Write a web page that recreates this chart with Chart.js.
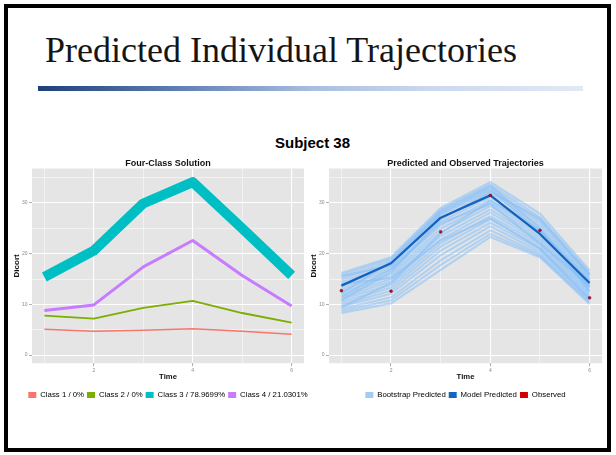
<!DOCTYPE html>
<html lang="en">
  <head>
    <meta charset="UTF-8" />
    <title>Predicted Individual Trajectories</title>
    <script src="https://cdn.jsdelivr.net/npm/chart.js"></script>
    <style>
      body {
        margin: 0;
        width: 616px;
        height: 455px;
        position: relative;
        overflow: hidden;
        background: #fff;
        font-family: "Liberation Sans", Arial, sans-serif;
      }
      .frame {
        position: absolute;
        left: 4px;
        top: 4px;
        width: 599px;
        height: 440px;
        border: 4px solid #000;
      }
      h1 {
        position: absolute;
        left: 45px;
        top: 32px;
        margin: 0;
        font: 400 36px/36px "Liberation Serif", "Times New Roman", serif;
        color: #151515;
        white-space: nowrap;
      }
      .rule {
        position: absolute;
        left: 38px;
        top: 86px;
        width: 545px;
        height: 5px;
        background: linear-gradient(
          90deg,
          #1e3f79 0%,
          #5d7db1 25%,
          #a8bde0 50%,
          #cbd8ee 72%,
          #e2e9f5 100%
        );
      }
      .subject {
        position: absolute;
        left: 0;
        top: 135px;
        width: 625px;
        text-align: center;
        font: 700 15px/15px "Liberation Sans", Arial, sans-serif;
        color: #000;
      }
      canvas {
        position: absolute;
      }
    </style>
  </head>
  <body>
    <div class="frame"></div>
    <h1>Predicted Individual Trajectories</h1>
    <div class="rule"></div>
    <div class="subject">Subject 38</div>
    <!-- canvases are symmetric around their plot so title/legend centre on the panel -->
    <canvas id="classChart" width="316" height="254" style="left: 10px; top: 155px"></canvas>
    <canvas id="trajChart" width="317" height="254" style="left: 307px; top: 155px"></canvas>

    <script>
      // time points
      const times = [1, 2, 3, 4, 5, 6];

      // left panel: four-class solution
      const classNames = ["Class 1 / 0%", "Class 2 / 0%", "Class 3 / 78.9699%", "Class 4 / 21.0301%"];
      const class1 = [5.1, 4.7, 4.9, 5.2, 4.7, 4.1];
      const class2 = [7.8, 7.2, 9.3, 10.7, 8.3, 6.4];
      const class3 = [15.4, 20.6, 29.9, 34.1, 25.0, 15.7];
      const class4 = [8.8, 9.9, 17.4, 22.6, 15.7, 9.7];

      // right panel: predicted and observed
      const trajNames = ["Bootstrap Predicted", "Model Predicted", "Observed"];
      const modelPredicted = [13.7, 18.1, 27.1, 31.5, 23.9, 14.2];
      const observed = [12.7, 12.6, 24.3, 31.5, 24.6, 11.3];
      const bootstrapPredicted = [
        [16.2, 19.3, 29.0, 34.1, 27.9, 16.7],
        [15.8, 19.0, 28.6, 33.6, 27.2, 16.2],
        [15.3, 18.6, 28.1, 33.1, 26.6, 15.8],
        [14.9, 18.2, 27.6, 32.5, 26.1, 15.5],
        [14.4, 17.7, 27.0, 31.9, 25.5, 15.1],
        [13.9, 17.2, 26.3, 31.2, 24.9, 14.8],
        [13.4, 16.7, 25.6, 30.6, 24.4, 14.4],
        [12.9, 16.1, 24.9, 30.0, 23.8, 14.0],
        [12.4, 15.6, 24.2, 29.4, 23.3, 13.6],
        [11.9, 15.0, 23.5, 28.7, 22.8, 13.2],
        [11.4, 14.5, 22.8, 28.1, 22.3, 12.8],
        [11.0, 13.9, 22.1, 27.4, 21.8, 12.4],
        [10.5, 13.3, 21.4, 26.8, 21.3, 12.0],
        [10.0, 12.7, 20.6, 26.1, 20.9, 11.6],
        [9.6, 12.1, 19.7, 25.4, 20.4, 11.2],
        [9.1, 11.4, 18.7, 24.6, 19.9, 10.8],
        [8.7, 10.8, 17.8, 23.9, 19.6, 10.4],
        [8.3, 10.2, 16.8, 23.3, 19.3, 10.1],
        [15.6, 17.6, 27.9, 32.8, 24.2, 13.4],
        [10.8, 16.4, 26.8, 32.2, 26.9, 15.9],
        [12.2, 18.4, 28.4, 33.4, 25.0, 12.6],
        [9.4, 14.2, 24.0, 30.4, 24.6, 14.6],
        [14.0, 15.2, 22.6, 27.0, 21.0, 11.0],
        [11.5, 17.0, 26.0, 29.8, 22.0, 13.8],
      ];

      // axis ticks (major get labels, minor only grid lines)
      const xMajorTicks = [2, 4, 6];
      const xMinorTicks = [1, 3, 5];
      const yMajorTicks = [0, 10, 20, 30];
      const yMinorTicks = [5, 15, 25, 35];

      Chart.defaults.font.family = "'Liberation Sans', Arial, sans-serif";

      const toPoints = (values) => values.map((v, i) => ({ x: times[i], y: v }));

      // ggplot style grey panel
      const plotBackground = {
        id: "plotBackground",
        beforeDraw(chart) {
          const { ctx, chartArea } = chart;
          ctx.save();
          ctx.fillStyle = "#E5E5E5";
          ctx.fillRect(chartArea.left, chartArea.top, chartArea.width, chartArea.height);
          ctx.restore();
        },
      };

      function axis(isX, majors, minors, min, max, title) {
        return {
          type: "linear",
          min: min,
          max: max,
          afterBuildTicks(scale) {
            scale.ticks = majors
              .concat(minors)
              .sort((a, b) => a - b)
              .map((v) => ({ value: v }));
          },
          afterFit(scale) {
            if (isX) scale.height = 25;
            else scale.width = 22;
          },
          border: { display: false },
          grid: {
            color: "#FFFFFF",
            lineWidth: (c) => (c.tick && majors.includes(c.tick.value) ? 1.1 : 0.5),
            tickLength: 3,
            tickWidth: 0.7,
            tickColor: (c) => (c.tick && majors.includes(c.tick.value) ? "#8A8A8A" : "rgba(0,0,0,0)"),
          },
          ticks: {
            autoSkip: false,
            maxRotation: 0,
            padding: 1.5,
            color: "#8A8A8A",
            font: { size: 5 },
            callback: (v) => (majors.includes(v) ? String(v) : ""),
          },
          title: {
            display: true,
            text: title,
            color: "#111",
            font: isX ? { size: 7.7, weight: "bold", lineHeight: 1.2 } : { size: 8, weight: "bold", lineHeight: 1.2 },
            padding: isX ? { top: 0, bottom: 7 } : { top: 1.9, bottom: 0 },
          },
        };
      }

      // empty right-hand box, same width as the y axis, keeps the panel symmetric
      const rightSpacer = {
        type: "linear",
        position: "right",
        afterFit(scale) {
          scale.width = 22;
        },
        border: { display: false },
        grid: { display: false },
        ticks: { display: false },
      };

      function panelOptions(title, legendItems) {
        return {
          responsive: false,
          animation: false,
          devicePixelRatio: 1,
          layout: { padding: 0 },
          elements: {
            point: { radius: 0 },
            line: { tension: 0, borderJoinStyle: "round", borderCapStyle: "butt" },
          },
          scales: {
            x: axis(true, xMajorTicks, xMinorTicks, 0.75, 6.25, "Time"),
            y: axis(false, yMajorTicks, yMinorTicks, -1.6, 36.8, "Dicort"),
            spacer: rightSpacer,
          },
          plugins: {
            title: {
              display: true,
              text: title,
              color: "#111",
              font: { size: 9, weight: "bold", lineHeight: 1 },
              padding: { top: 4.5, bottom: 0 },
            },
            legend: {
              position: "bottom",
              labels: {
                boxWidth: 8,
                boxHeight: 6,
                padding: 3,
                color: "#222",
                font: { size: 7.8 },
                generateLabels: () => legendItems,
              },
            },
            tooltip: { enabled: false },
          },
        };
      }

      const classColors = ["#F8766D", "#7CAE00", "#00BFC4", "#C77CFF"];
      const classWidths = [1.6, 1.8, 10, 3];
      const classSeries = [class1, class2, class3, class4];

      new Chart(document.getElementById("classChart"), {
        type: "line",
        data: {
          datasets: classSeries.map((values, i) => ({
            label: classNames[i],
            data: toPoints(values),
            borderColor: classColors[i],
            borderWidth: classWidths[i],
          })),
        },
        options: panelOptions(
          "Four-Class Solution",
          classNames.map((name, i) => ({ text: name, fillStyle: classColors[i], lineWidth: 0, hidden: false }))
        ),
        plugins: [plotBackground],
      });

      const trajColors = ["#A3CCF5", "#1565C0", "#D00000"];

      new Chart(document.getElementById("trajChart"), {
        type: "line",
        data: {
          datasets: [
            {
              label: trajNames[2],
              data: toPoints(observed),
              showLine: false,
              pointRadius: 1.4,
              pointBackgroundColor: "#B8102A",
              pointBorderColor: "#7A0010",
              pointBorderWidth: 0.5,
            },
            {
              label: trajNames[1],
              data: toPoints(modelPredicted),
              borderColor: "#1462BD",
              borderWidth: 2.2,
            },
          ].concat(
            bootstrapPredicted.map((values) => ({
              label: trajNames[0],
              data: toPoints(values),
              borderColor: "rgba(135, 192, 247, 0.55)",
              borderWidth: 2.2,
            }))
          ),
        },
        options: panelOptions(
          "Predicted and Observed Trajectories",
          trajNames.map((name, i) => ({ text: name, fillStyle: trajColors[i], lineWidth: 0, hidden: false }))
        ),
        plugins: [plotBackground],
      });
    </script>
  </body>
</html>
